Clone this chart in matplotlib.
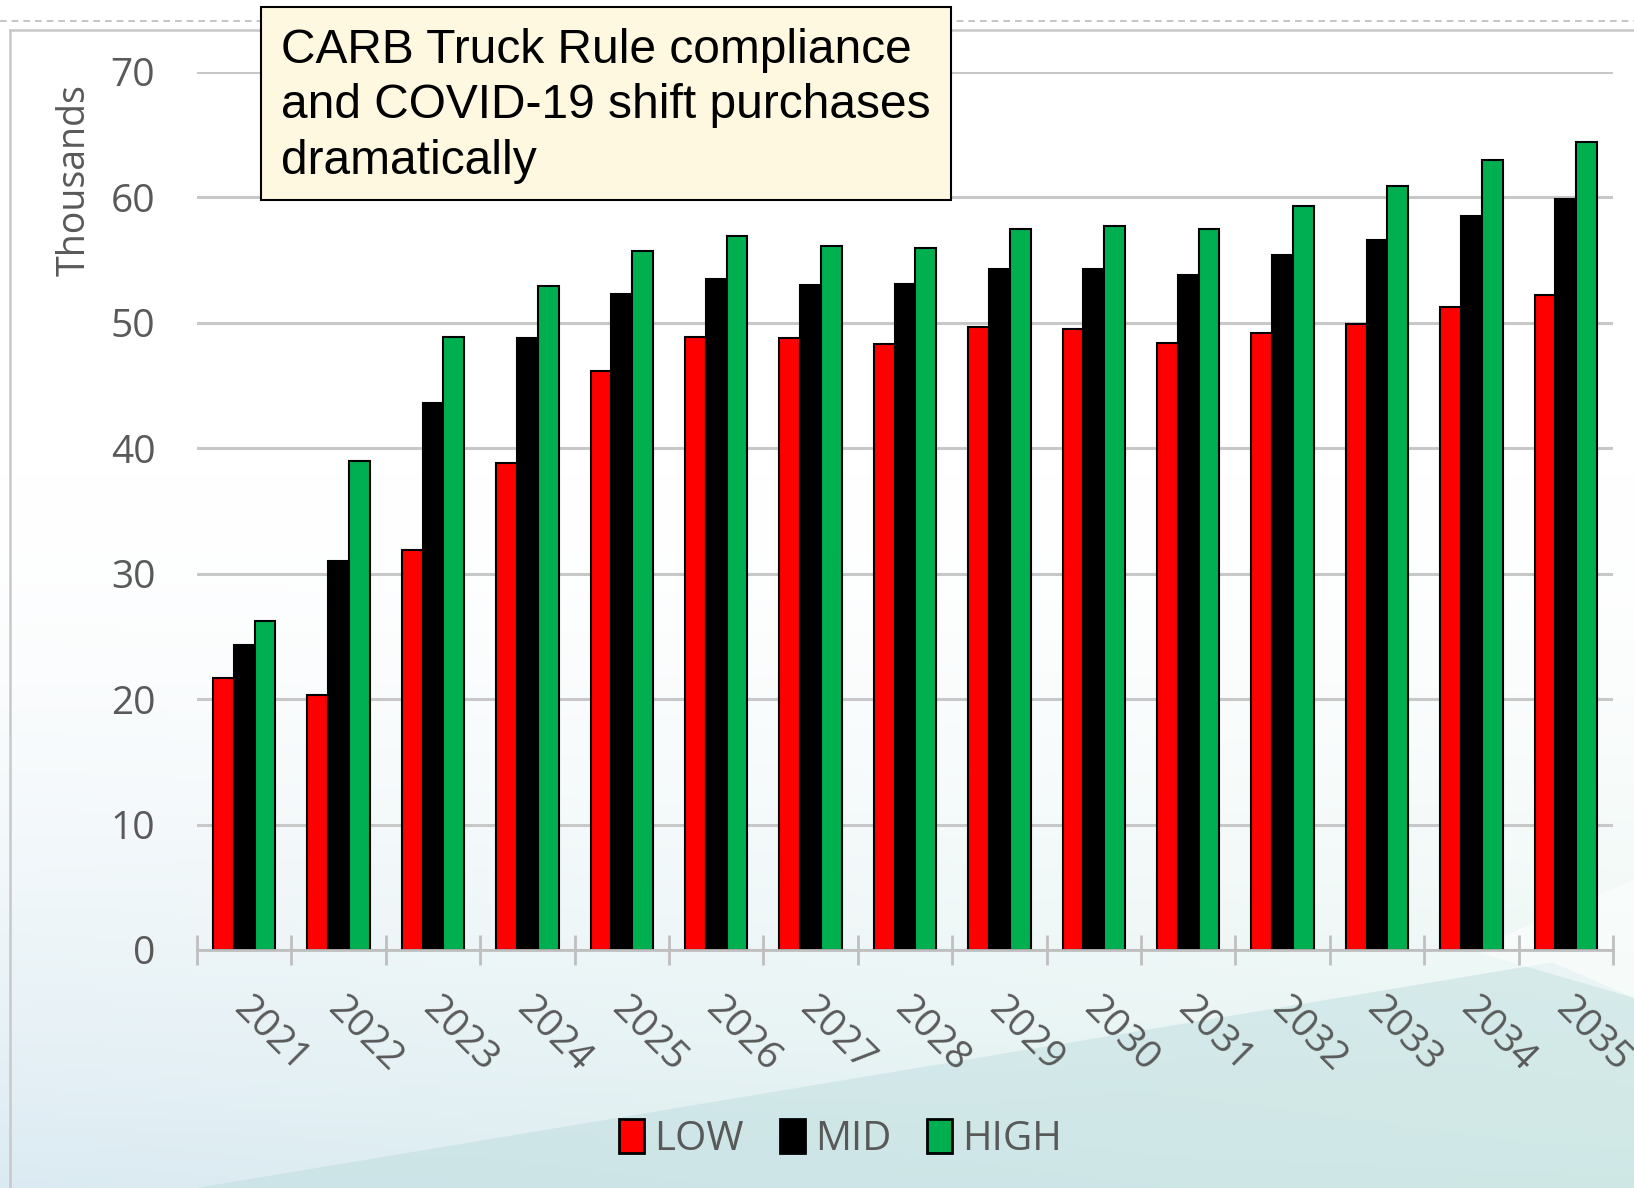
import matplotlib

matplotlib.use("Agg")

import matplotlib.pyplot as plt
import numpy as np
from matplotlib.patches import Patch, Polygon, Rectangle
from matplotlib.transforms import ScaledTranslation

years = [str(y) for y in range(2021, 2036)]
low = [21.7, 20.3, 31.9, 38.8, 46.2, 48.9, 48.8, 48.3, 49.7, 49.5, 48.4, 49.2, 49.9, 51.3, 52.2]
mid = [24.3, 31.0, 43.6, 48.8, 52.3, 53.5, 53.0, 53.1, 54.3, 54.3, 53.8, 55.4, 56.6, 58.5, 59.9]
high = [26.2, 39.0, 48.9, 52.9, 55.7, 56.9, 56.1, 56.0, 57.5, 57.7, 57.5, 59.3, 60.9, 63.0, 64.4]
series = [("LOW", low, "#FF0000"), ("MID", mid, "#000000"), ("HIGH", high, "#00B050")]
y_ticks = [0, 10, 20, 30, 40, 50, 60, 70]
note = "CARB Truck Rule compliance\nand COVID-19 shift purchases\ndramatically"

W, H = 1634, 1188
fig = plt.figure(figsize=(W / 100, H / 100), dpi=100)
label_font = ["Open Sans", "DejaVu Sans"]
grey = "#595959"

# slide background: white fading to pale teal, with a diagonal swoosh at the bottom
bg = fig.add_axes([0, 0, 1, 1], zorder=-2)
bg.set_axis_off()
yy = np.linspace(0, 1, 300)[:, None]
xx = np.linspace(0, 1, 300)[None, :]
t = np.clip((yy - 0.40) / 0.60, 0, 1) ** 1.6
top = np.array([1.0, 1.0, 1.0])
bot_l = np.array([0.86, 0.92, 0.95])
bot_r = np.array([0.88, 0.95, 0.93])
bot = bot_l[None, None, :] * (1 - xx[..., None]) + bot_r[None, None, :] * xx[..., None]
img = top[None, None, :] * (1 - t[..., None]) + bot * t[..., None]
bg.imshow(img, extent=[0, 1, 0, 1], aspect="auto", origin="upper")
bg.add_patch(Polygon([[0.12, 0.0], [1.0, 0.0], [1.0, 0.16], [0.95, 0.19]], closed=True,
                     facecolor="#BADBDD", alpha=0.45, edgecolor="none"))
bg.add_patch(Polygon([[0.90, 0.20], [1.0, 0.26], [1.0, 0.16]], closed=True,
                     facecolor="#FFFFFF", alpha=0.5, edgecolor="none"))
bg.set_xlim(0, 1)
bg.set_ylim(0, 1)
# slide frame lines
bg.plot([0, 1], [1 - 21 / H, 1 - 21 / H], color="#BBBBBB", lw=1.2, ls=(0, (4, 3)))
bg.plot([10 / W, 1], [1 - 30 / H, 1 - 30 / H], color="#C8C8C8", lw=1.8)
bg.plot([10 / W, 10 / W], [0, 1 - 30 / H], color="#C8C8C8", lw=1.8)

ax = fig.add_axes([197 / W, 1 - 950 / H, (1613 - 197) / W, (950 - 72) / H])
ax.set_facecolor("none")
x = np.arange(len(years))
width = 0.22
for i, (name, vals, color) in enumerate(series):
    ax.bar(x + (i - 1) * width, vals, width, color=color, edgecolor="black", linewidth=1.5,
           label=name, zorder=3)

ax.set_xlim(-0.5, len(years) - 0.5)
ax.set_ylim(0, 70)
ax.set_yticks(y_ticks)
ax.yaxis.grid(True, color="#C8C8C8", linewidth=2.2, zorder=0)
ax.set_axisbelow(True)
for side in ["left", "right", "top"]:
    ax.spines[side].set_visible(False)
ax.spines["bottom"].set_color("#BFBFBF")
ax.spines["bottom"].set_linewidth(2)
ax.spines["bottom"].set_zorder(4)

ax.tick_params(axis="y", length=0, pad=30, labelsize=28, labelcolor=grey)
ax.set_xticks(x)
ax.set_xticklabels(years)
ax.set_xticks(np.arange(-0.5, len(years)), minor=True)
ax.tick_params(axis="x", which="major", length=0, pad=38, labelsize=28, labelcolor=grey)
ax.tick_params(axis="x", which="minor", direction="inout", length=22, width=2, color="#BFBFBF")
for lab in ax.get_xticklabels():
    lab.set_rotation(-45)
    lab.set_ha("left")
    lab.set_va("center")
    lab.set_rotation_mode("anchor")
    lab.set_transform(lab.get_transform() + ScaledTranslation(-0.05, 0, fig.dpi_scale_trans))
for lab in ax.get_xticklabels() + ax.get_yticklabels():
    lab.set_fontfamily(label_font)

fig.text(75 / W, 1 - 180 / H, "Thousands", rotation=90, ha="center", va="center",
         fontsize=27, color=grey, family=label_font)

handles = [Patch(facecolor=c, edgecolor="black", linewidth=2) for _, _, c in series]
leg = fig.legend(handles, [s[0] for s in series], loc="center", bbox_to_anchor=(0.5145, 0.041),
                 ncol=3, frameon=False, handlelength=0.62, handleheight=0.95,
                 handletextpad=0.25, columnspacing=0.9, prop={"family": label_font, "size": 29})
for txt in leg.get_texts():
    txt.set_color(grey)

# annotation box
fig.patches.append(Rectangle((261 / W, 1 - 200 / H), (951 - 261) / W, (200 - 7) / H,
                             transform=fig.transFigure, facecolor="#FFF8E1", edgecolor="black",
                             linewidth=1.5, zorder=5))
fig.text(281 / W, 1 - 28 / H, note, ha="left", va="top", fontsize=34.5, family="Liberation Sans",
         color="black", linespacing=1.3, zorder=6)

fig.savefig("out.png", dpi=100)
